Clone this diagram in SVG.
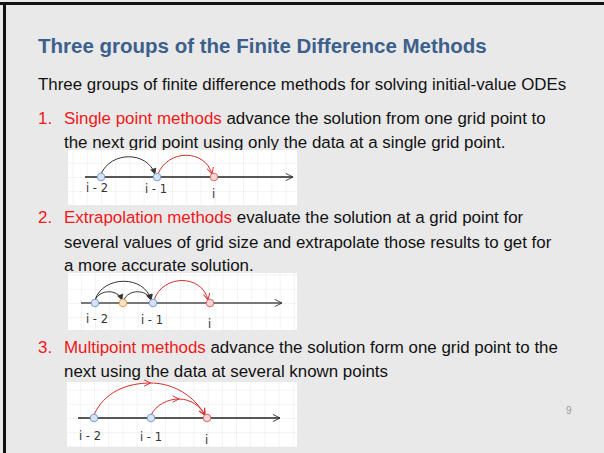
<svg xmlns="http://www.w3.org/2000/svg" width="604" height="453" viewBox="0 0 604 453">
<style>
.t{font-family:"Liberation Sans",Arial,sans-serif;font-size:16.9px;fill:#111}
.r{fill:#f01818}
.title{font-family:"Liberation Sans",Arial,sans-serif;font-size:20.5px;font-weight:bold;fill:#3c5f8c}
.lab{font-family:"DejaVu Sans",sans-serif;font-size:11.5px;fill:#333}
.ax{fill:none;stroke:#222;stroke-width:1.3}
.ax2{fill:none;stroke:#777;stroke-width:2}
.blk{fill:none;stroke:#333;stroke-width:1}
.red{fill:none;stroke:#d92b2b;stroke-width:1}
.nb{fill:#d7e2f3;stroke:#7b9fd3;stroke-width:1}
.nr{fill:#f4d4d4;stroke:#de6868;stroke-width:1}
.no{fill:#f3e3cc;stroke:#e6a24a;stroke-width:1}
.bg{fill:#fff}
</style>
<defs>
<pattern id="grid" patternUnits="userSpaceOnUse" width="14.2" height="14.2" x="0" y="0">
<path d="M0,0 V14.2 M0,0 H14.2" fill="none" stroke="#e2e2e2" stroke-width="0.8"/>
</pattern>
<marker id="ab" viewBox="0 0 10 10" refX="9" refY="5" markerWidth="7" markerHeight="7" orient="auto" markerUnits="userSpaceOnUse">
<path d="M1,1 L9,5 L1,9" fill="#333" stroke="#333" stroke-width="1"/>
</marker>
<marker id="ar" viewBox="0 0 10 10" refX="9" refY="5" markerWidth="8" markerHeight="8" orient="auto" markerUnits="userSpaceOnUse">
<path d="M1,1 L9,5 L1,9" fill="none" stroke="#d92b2b" stroke-width="1.2"/>
</marker>
<marker id="ax" viewBox="0 0 10 10" refX="9" refY="5" markerWidth="9" markerHeight="9" orient="auto" markerUnits="userSpaceOnUse">
<path d="M1,1 L9,5 L1,9" fill="none" stroke="#333" stroke-width="1"/>
</marker>
</defs>
<rect x="0" y="0" width="604" height="453" fill="#e9e9e9"/>
<rect x="0" y="2" width="604" height="3" fill="#111"/>
<rect x="3" y="2" width="3" height="451" fill="#111"/>

<text class="title" x="38" y="53">Three groups of the Finite Difference Methods</text>
<text class="t" x="38" y="90">Three groups of finite difference methods for solving initial-value ODEs</text>

<text class="t r" x="38" y="124">1.</text>
<text class="t" x="64" y="124"><tspan class="r">Single point methods</tspan> advance the solution from one grid point to</text>
<text class="t" x="64" y="148">the next grid point using only the data at a single grid point.</text>

<text class="t r" x="38" y="223">2.</text>
<text class="t" x="64" y="223"><tspan class="r">Extrapolation methods</tspan> evaluate the solution at a grid point for</text>
<text class="t" x="64" y="248">several values of grid size and extrapolate those results to get  for</text>
<text class="t" x="64" y="271">a more accurate solution.</text>

<text class="t r" x="38" y="353">3.</text>
<text class="t" x="64" y="353"><tspan class="r">Multipoint methods</tspan> advance the solution form one grid point to the</text>
<text class="t" x="64" y="377">next using the data at several known points</text>

<text x="566" y="414" font-family="Liberation Sans,Arial,sans-serif" font-size="10" fill="#999">9</text>

<!-- Diagram 1 -->
<g id="diagram1" transform="translate(101,177)">
<rect class="bg" x="-33" y="-27" width="229" height="55"/>
<rect x="-33" y="-27" width="229" height="55" fill="url(#grid)"/>
<g id="connectors1">
<path class="ax" d="M-16,0 H192" marker-end="url(#ax)"/>
<path class="blk" d="M0,-3 C10,-26 46,-26 54,-3" marker-end="url(#ab)"/>
<path class="red" d="M57,-3 C67,-28 104,-28 111,-3" marker-end="url(#ar)"/>
</g>
<g id="d1-n1"><circle class="nb" cx="0" cy="0" r="3.8"/><text class="lab" x="-15" y="15">i - 2</text></g>
<g id="d1-n2"><circle class="nb" cx="56" cy="0" r="3.8"/><text class="lab" x="44" y="16">i - 1</text></g>
<g id="d1-n3"><circle class="nr" cx="113" cy="0" r="3.8"/><text class="lab" x="111" y="21">i</text></g>
</g>

<!-- Diagram 2 -->
<g id="diagram2" transform="translate(95,303)">
<rect class="bg" x="-27" y="-30" width="229" height="57"/>
<rect x="-27" y="-30" width="229" height="57" fill="url(#grid)"/>
<g id="connectors2">
<path class="ax2" d="M-14,0 H187" marker-end="url(#ax)"/>
<path class="blk" d="M0,-3 C8,-28 50,-28 56,-3" marker-end="url(#ab)"/>
<path class="blk" d="M0,-3 C5,-14 23,-14 27,-3" marker-end="url(#ab)"/>
<path class="blk" d="M29,-3 C33,-14 52,-14 56,-3" marker-end="url(#ab)"/>
<path class="red" d="M59,-3 C68,-29 107,-29 113,-3" marker-end="url(#ar)"/>
</g>
<g id="d2-n1"><circle class="nb" cx="0" cy="0" r="3.8"/><text class="lab" x="-9" y="20">i - 2</text></g>
<g id="d2-n2"><circle class="no" cx="28" cy="0" r="3.8"/></g>
<g id="d2-n3"><circle class="nb" cx="58" cy="0" r="3.8"/><text class="lab" x="46" y="21">i - 1</text></g>
<g id="d2-n4"><circle class="nr" cx="115" cy="0" r="3.8"/><text class="lab" x="113" y="25">i</text></g>
</g>

<!-- Diagram 3 -->
<g id="diagram3" transform="translate(94,418)">
<rect class="bg" x="-27" y="-36" width="230" height="65"/>
<rect x="-27" y="-36" width="230" height="65" fill="url(#grid)"/>
<g id="connectors3">
<path class="ax" d="M-16,0 H186" marker-end="url(#ax)"/>
<path class="red" d="M0,-3 C10,-26 33,-35 56.5,-35 C79.75,-35 100,-22 111,-3" marker-mid="url(#ar)" marker-end="url(#ar)"/>
<path class="red" d="M57,-3 C62,-13 73.5,-19 85,-19 C96.5,-19 106,-12 111,-3" marker-mid="url(#ar)" marker-end="url(#ar)"/>
</g>
<g id="d3-n1"><circle class="nb" cx="0" cy="0" r="3.8"/><text class="lab" x="-15" y="22">i - 2</text></g>
<g id="d3-n2"><circle class="nb" cx="57" cy="0" r="3.8"/><text class="lab" x="46" y="23">i - 1</text></g>
<g id="d3-n3"><circle class="nr" cx="113" cy="0" r="3.8"/><text class="lab" x="111" y="26">i</text></g>
</g>
</svg>
